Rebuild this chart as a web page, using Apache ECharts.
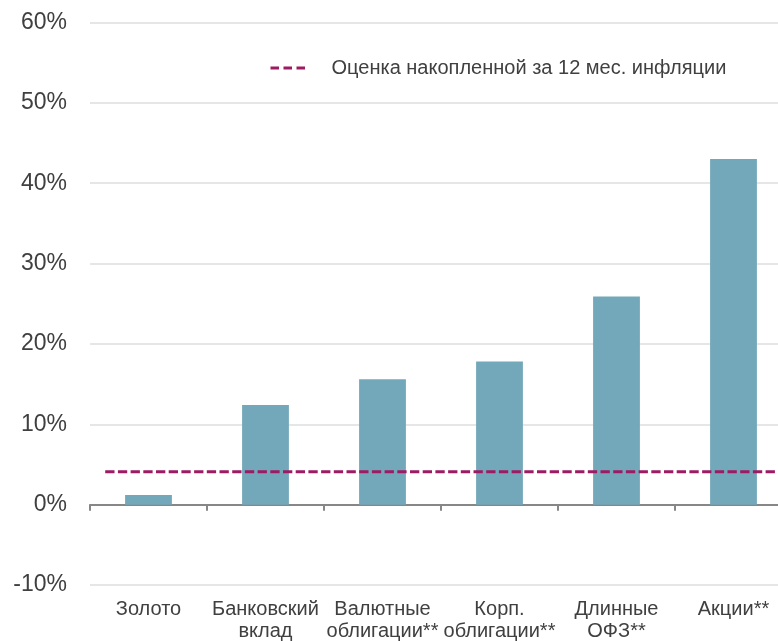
<!DOCTYPE html>
<html>
<head>
<meta charset="utf-8">
<script src="https://cdn.jsdelivr.net/npm/echarts@6/dist/echarts.min.js"></script>
<style>
  html, body { margin: 0; padding: 0; background: #ffffff; }
  #chart { width: 778px; height: 641px; }
</style>
</head>
<body>
<div id="chart"></div>
<script>
// Asset classes and their 12-month returns, %
const categories = ['Золото', 'Банковский\nвклад', 'Валютные\nоблигации**', 'Корп.\nоблигации**', 'Длинные\nОФЗ**', 'Акции**'];
const returns = [1.2, 12.4, 15.6, 17.8, 25.9, 43.0];

// Accumulated 12-month inflation estimate, drawn as a flat reference line
const inflationName = 'Оценка накопленной за 12 мес. инфляции';
const inflationValue = 4.1;
// horizontal span of the reference line, in category units (0 = left edge of the first slot)
const inflationSpan = [0.13, 6];

// Value axis range
const yMin = -10, yMax = 60, yStep = 10;

const textColor = '#404040';
const font = 'Liberation Sans, Arial, sans-serif';

const chart = echarts.init(document.getElementById('chart'), null, { renderer: 'canvas' });

chart.setOption({
  animation: false,
  backgroundColor: '#ffffff',
  grid: { left: 90, top: 22.5, width: 702, height: 562.5, outerBoundsMode: 'none', containLabel: false },
  legend: {
    data: [inflationName],
    left: 269,
    top: 58,
    padding: 0,
    itemWidth: 35,
    itemHeight: 14,
    itemStyle: { opacity: 0 },
    lineStyle: { width: 3, type: [8.5, 4.5], color: '#9c1b63' },
    textStyle: { color: textColor, fontSize: 20, fontFamily: font, padding: [0, 0, 0, 21] }
  },
  xAxis: [
    {
      // zero line with slot ticks
      type: 'category',
      data: categories,
      boundaryGap: true,
      axisLine: { show: true, onZero: true, lineStyle: { color: '#878787', width: 2 } },
      axisTick: { show: true, length: 6, lineStyle: { color: '#878787', width: 2 } },
      axisLabel: { show: false },
      splitLine: { show: false }
    },
    {
      // category labels along the bottom of the plot
      type: 'category',
      data: categories,
      position: 'bottom',
      boundaryGap: true,
      axisLine: { show: false, onZero: false },
      axisTick: { show: false },
      axisLabel: {
        show: true, interval: 0, hideOverlap: false, margin: 13,
        color: textColor, fontSize: 20, lineHeight: 22, fontFamily: font, align: 'center'
      },
      splitLine: { show: false }
    },
    {
      // continuous axis for the inflation reference line
      type: 'value',
      min: 0,
      max: categories.length,
      show: false,
      splitLine: { show: false }
    }
  ],
  yAxis: {
    type: 'value',
    min: yMin,
    max: yMax,
    interval: yStep,
    axisLine: { show: false },
    axisTick: { show: false },
    axisLabel: {
      formatter: '{value}%', color: textColor, fontSize: 23, fontFamily: font, margin: 23
    },
    splitLine: { show: true, lineStyle: { color: '#dedede', width: 1.5 } }
  },
  series: [
    {
      type: 'bar',
      xAxisIndex: 0,
      data: returns,
      barWidth: '40%',
      itemStyle: { color: '#73a7ba' },
      z: 2
    },
    {
      name: inflationName,
      type: 'line',
      xAxisIndex: 2,
      data: inflationSpan.map(x => [x, inflationValue]),
      symbol: 'none',
      lineStyle: { color: '#9c1b63', width: 3, type: [9.3, 3.4] },
      itemStyle: { color: '#9c1b63' },
      z: 3
    }
  ]
});
</script>
</body>
</html>
